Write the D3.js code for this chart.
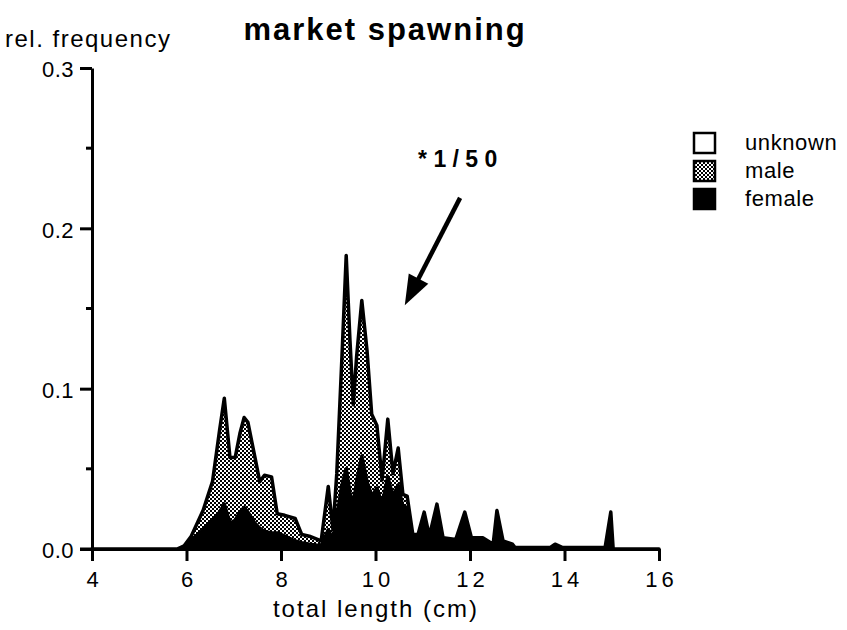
<!DOCTYPE html>
<html>
<head>
<meta charset="utf-8">
<script src="https://cdn.jsdelivr.net/npm/d3@7"></script>
<style>
  html, body { margin: 0; padding: 0; background: #fff; }
  svg { display: block; font-family: "Liberation Sans", Arial, Helvetica, sans-serif; }
</style>
</head>
<body>
<svg id="chart" width="847" height="630"></svg>
<script>
// Length classes (cm) at which the relative frequencies were recorded
const lengths = [4.0, 5.8, 5.95, 6.1, 6.35, 6.55, 6.7, 6.8, 6.92, 7.03, 7.13, 7.22, 7.3, 7.45, 7.55, 7.65, 7.8, 7.92, 8.08, 8.3, 8.44, 8.6, 8.85,
  9.0, 9.1, 9.18, 9.29, 9.38, 9.46, 9.53, 9.6, 9.71, 9.82, 9.92, 10.03, 10.14, 10.26, 10.37, 10.48, 10.58, 10.67, 10.79, 10.9,
  11.03, 11.14, 11.3, 11.43, 11.7, 11.89, 12.03, 12.27, 12.49, 12.57, 12.7, 12.9, 12.95, 13.7, 13.8, 13.95, 14.86, 14.98, 15.03, 16.0];

// Relative frequency of females per length class
const female = [0, 0, 0.001, 0.005, 0.012, 0.018, 0.023, 0.028, 0.016, 0.018, 0.023, 0.026, 0.023, 0.016, 0.013, 0.011, 0.010, 0.010, 0.008, 0.005, 0.004, 0.003, 0.002,
  0.012, 0.006, 0.020, 0.040, 0.050, 0.035, 0.028, 0.042, 0.058, 0.042, 0.033, 0.038, 0.028, 0.045, 0.033, 0.040, 0.026, 0.026, 0.007, 0.008,
  0.022, 0.007, 0.027, 0.006, 0.005, 0.022, 0.006, 0.006, 0.003, 0.023, 0.005, 0.003, 0.001, 0.001, 0.003, 0.001, 0.001, 0.023, 0, 0];

// Relative frequency of males per length class
const male = [0, 0, 0.001, 0.003, 0.012, 0.024, 0.051, 0.066, 0.041, 0.039, 0.049, 0.056, 0.056, 0.041, 0.029, 0.035, 0.035, 0.012, 0.013, 0.014, 0.005, 0.005, 0.003,
  0.027, 0.006, 0.027, 0.080, 0.133, 0.095, 0.062, 0.078, 0.097, 0.082, 0.051, 0.039, 0.015, 0.036, 0.014, 0.023, 0.008, 0.007, 0.002, 0.001,
  0.001, 0.001, 0.001, 0.001, 0.001, 0.001, 0.001, 0.001, 0, 0.001, 0, 0, 0, 0, 0, 0, 0, 0, 0, 0];

// Relative frequency of fish of unknown sex per length class
const unknown = lengths.map(() => 0);

const xTicks = [4, 6, 8, 10, 12, 14, 16];
const yTicks = [0, 0.1, 0.2, 0.3];
const yMinorTicks = [0.05, 0.15, 0.25];
const seriesNames = ["unknown", "male", "female"];

const svg = d3.select("#chart");
const x = d3.scaleLinear().domain([4, 16]).range([92, 659]);
const y = d3.scaleLinear().domain([0, 0.3]).range([549, 68]);

// Checkered fill for the male layer
const defs = svg.append("defs");
const pat = defs.append("pattern").attr("id", "checker")
  .attr("patternUnits", "userSpaceOnUse").attr("width", 4).attr("height", 4);
pat.append("rect").attr("width", 4).attr("height", 4).attr("fill", "#fff");
pat.append("rect").attr("x", 0).attr("y", 0).attr("width", 2).attr("height", 2).attr("fill", "#000");
pat.append("rect").attr("x", 2).attr("y", 2).attr("width", 2).attr("height", 2).attr("fill", "#000");

// Stack female (bottom), male, unknown (top)
const rows = lengths.map((len, i) => ({ len, female: female[i], male: male[i], unknown: unknown[i] }));
const stacked = d3.stack().keys(["female", "male", "unknown"])(rows);
const area = d3.area().x(d => x(d.data.len)).y0(d => y(d[0])).y1(d => y(d[1]));

const fills = { female: "#000", male: "url(#checker)", unknown: "#fff" };
const layers = svg.append("g");
// male first (with the heavy outline), then female on top, then unknown
["male", "female", "unknown"].forEach(k => {
  const s = stacked.find(d => d.key === k);
  layers.append("path").datum(s)
    .attr("d", area)
    .attr("fill", fills[k])
    .attr("stroke", k === "unknown" ? "none" : "#000")
    .attr("stroke-width", k === "male" ? 3.5 : 1.5)
    .attr("stroke-linejoin", "round");
});

// Axes
const xAxis = svg.append("g").attr("transform", `translate(0,${y(0)})`)
  .call(d3.axisBottom(x).tickValues(xTicks).tickSize(12).tickSizeOuter(0).tickPadding(10).tickFormat(d3.format("d")));
const yAxis = svg.append("g").attr("transform", `translate(${x(4)},0)`)
  .call(d3.axisLeft(y).tickValues(yTicks).tickSize(12).tickSizeOuter(0).tickPadding(6).tickFormat(d3.format(".1f")));
yAxis.selectAll(".minor").data(yMinorTicks).enter().append("line")
  .attr("class", "minor").attr("x1", -6).attr("x2", 0)
  .attr("y1", d => y(d)).attr("y2", d => y(d)).attr("stroke", "#000").attr("stroke-width", 3);
// short stub of the length axis to the left of the frequency axis
xAxis.append("line").attr("x1", x(4) - 12).attr("x2", x(4)).attr("stroke", "#000").attr("stroke-width", 3);

[xAxis, yAxis].forEach(g => {
  g.select(".domain").attr("stroke", "#000").attr("stroke-width", 3);
  g.selectAll(".tick line").attr("stroke", "#000").attr("stroke-width", 3);
  g.selectAll(".tick text").attr("fill", "#000").attr("font-size", 22)
    .attr("font-family", "'Liberation Sans', Arial, sans-serif");
});
xAxis.selectAll(".tick text").attr("letter-spacing", 4).attr("dx", 2);
yAxis.selectAll(".tick text").attr("letter-spacing", 0.5).attr("dy", "0.4em");

// Titles
svg.append("text").attr("x", 385).attr("y", 40).attr("text-anchor", "middle")
  .attr("font-size", 31).attr("font-weight", "bold").attr("letter-spacing", 2)
  .text("market  spawning");
svg.append("text").attr("x", 5).attr("y", 47)
  .attr("font-size", 24).attr("letter-spacing", 1.5)
  .text("rel. frequency");
svg.append("text").attr("x", 376).attr("y", 617).attr("text-anchor", "middle")
  .attr("font-size", 24).attr("letter-spacing", 2)
  .text("total length (cm)");

// Annotation: scale factor with arrow
svg.append("text").attr("x", x(11.74)).attr("y", y(0.238)).attr("text-anchor", "middle")
  .attr("font-size", 23).attr("font-weight", "bold").attr("letter-spacing", 0)
  .text("* 1 / 5 0");
const a0 = [x(11.79), y(0.219)], a1 = [x(10.62), y(0.152)];
const dxA = a1[0] - a0[0], dyA = a1[1] - a0[1], L = Math.hypot(dxA, dyA);
const ux = dxA / L, uy = dyA / L, nx = -uy, ny = ux;
const head = 30, half = 11;
const bx = a1[0] - head * ux, by = a1[1] - head * uy;
svg.append("line").attr("x1", a0[0]).attr("y1", a0[1]).attr("x2", bx + 4 * ux).attr("y2", by + 4 * uy)
  .attr("stroke", "#000").attr("stroke-width", 4.5);
svg.append("polygon")
  .attr("points", [a1, [bx + half * nx, by + half * ny], [bx - half * nx, by - half * ny]].map(p => p.join(",")).join(" "))
  .attr("fill", "#000");

// Legend
const legend = svg.append("g").attr("transform", "translate(693,132)");
const legendFill = { unknown: "#fff", male: "url(#checker)", female: "#000" };
seriesNames.forEach((k, i) => {
  const g = legend.append("g").attr("transform", `translate(0,${i * 28})`);
  g.append("rect").attr("x", 1).attr("y", 1).attr("width", 21).attr("height", 20)
    .attr("fill", legendFill[k]).attr("stroke", "#000").attr("stroke-width", 2.5);
  g.append("text").attr("x", 52).attr("y", 18).attr("font-size", 22).attr("letter-spacing", 0.6).text(k);
});
</script>
</body>
</html>
